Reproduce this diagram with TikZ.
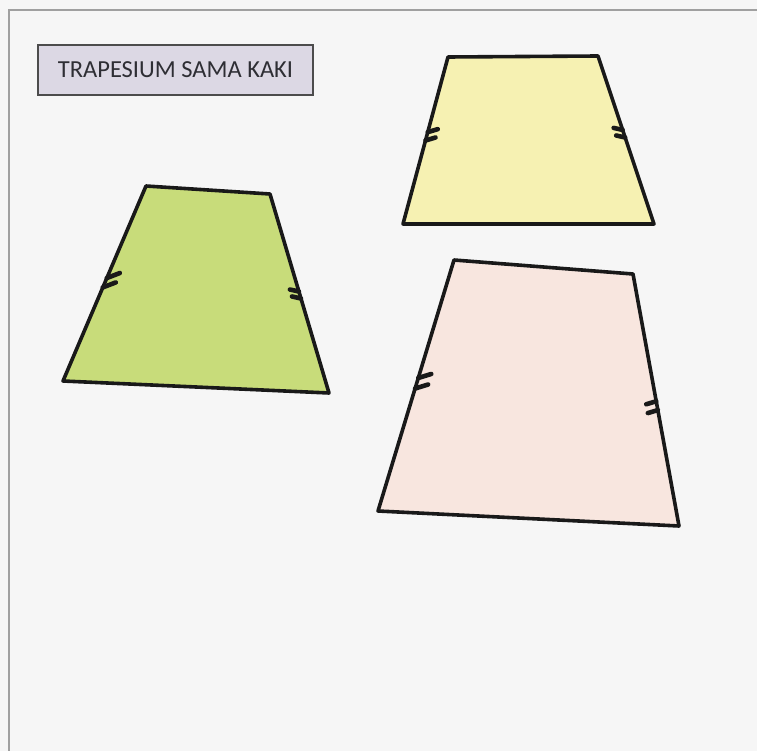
\documentclass[tikz,border=0pt]{standalone}
\usepackage{fontspec}
\setmainfont{Carlito}
\usetikzlibrary{calc}
\definecolor{paper}{HTML}{F6F6F6}
\definecolor{frame}{HTML}{A0A0A0}
\definecolor{titlefill}{HTML}{DCD8E4}
\definecolor{titletext}{HTML}{2E2E34}
\definecolor{greenfill}{HTML}{C8DC7A}
\definecolor{yellowfill}{HTML}{F6F1B2}
\definecolor{pinkfill}{HTML}{F8E6DF}
\tikzset{
  shapeedge/.style={draw=black!90, line width=3.6pt, line join=round},
  tickmark/.style={draw=black!90, line width=4.6pt, line cap=round},
  titlebox/.style={draw=black!70, line width=1.2pt, fill=titlefill, minimum width=275pt, minimum height=50pt, inner sep=0pt, text=titletext, font=\fontsize{24.5}{28}\selectfont},
}
\newcommand\dticks[5]{% A, B, t1, t2, offset
  \draw[tickmark] ($(#1)!#3!(#2)$) -- ++(#5);
  \draw[tickmark] ($(#1)!#4!(#2)$) -- ++(#5);
}
\begin{document}
\begin{tikzpicture}[x=1pt,y=-1pt]
\useasboundingbox (0,0) rectangle (757,751);
\fill[paper] (0,0) rectangle (757,751);
\draw[frame, line width=1.4pt] (9,760) -- (9,10) -- (760,10);
% title
\node[titlebox] (title) at (175.5,70) {TRAPESIUM SAMA KAKI};
% green trapezoid
\coordinate (gA) at (146,186);
\coordinate (gB) at (270,194);
\coordinate (gC) at (329,393);
\coordinate (gD) at (63,381);
\filldraw[shapeedge, fill=greenfill] (gA) -- (gB) -- (gC) -- (gD) -- cycle;
\dticks{gA}{gD}{0.472}{0.52}{13,-5}
\dticks{gB}{gC}{0.49}{0.525}{-9,-2}
% yellow trapezoid
\coordinate (yA) at (448,57);
\coordinate (yB) at (598,56);
\coordinate (yC) at (654,224);
\coordinate (yD) at (403,224);
\filldraw[shapeedge, fill=yellowfill] (yA) -- (yB) -- (yC) -- (yD) -- cycle;
\dticks{yA}{yD}{0.45}{0.5}{10,-3}
\dticks{yB}{yC}{0.44}{0.485}{-9,-2}
% pink trapezoid
\coordinate (pA) at (454,260);
\coordinate (pB) at (633,274);
\coordinate (pC) at (679,526);
\coordinate (pD) at (378,511);
\filldraw[shapeedge, fill=pinkfill] (pA) -- (pB) -- (pC) -- (pD) -- cycle;
\dticks{pA}{pD}{0.47}{0.512}{13,-4}
\dticks{pB}{pC}{0.505}{0.54}{-10,3}
\end{tikzpicture}
\end{document}
